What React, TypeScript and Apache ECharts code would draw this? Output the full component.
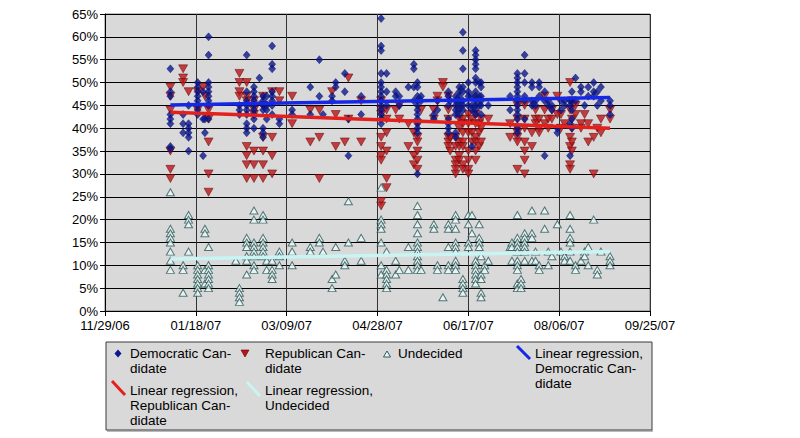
import React, { useEffect, useRef } from 'react';
import * as echarts from 'echarts';

// X axis range (dates) and tick step in days, Y axis range in percent
const xStart = '2006-11-29';
const xEnd = '2007-09-25';
const xStepDays = 50;
const yMax = 65;
const yStep = 5;

// Polls: [date, values in %]
const demPolls: [string, number[]][] = [
  ['2007-01-04', [53, 48, 47, 43, 42, 41, 36, 35.5]],
  ['2007-01-11', [43, 41, 39]],
  ['2007-01-14', [45, 41, 40, 39, 38, 35]],
  ['2007-01-19', [50, 49, 48, 47, 46, 45, 44, 43]],
  ['2007-01-22', [48, 42, 34]],
  ['2007-01-23', [42, 39]],
  ['2007-01-25', [60, 56, 50, 49, 48, 47, 46, 45, 42]],
  ['2007-02-11', [45, 44, 43]],
  ['2007-02-15', [56, 48, 46, 45, 44, 43, 41, 40, 39]],
  ['2007-02-19', [49, 48, 47, 46, 45, 44, 43, 42, 40]],
  ['2007-02-22', [51]],
  ['2007-02-24', [47, 46, 45, 44, 40, 39, 38]],
  ['2007-02-26', [47, 45, 44, 42]],
  ['2007-03-01', [58, 54, 53, 48, 47, 46, 45, 43]],
  ['2007-03-05', [42, 41]],
  ['2007-03-12', [44, 43]],
  ['2007-03-22', [49, 43]],
  ['2007-03-27', [55, 47]],
  ['2007-03-29', [43]],
  ['2007-04-03', [47, 46]],
  ['2007-04-05', [50, 49]],
  ['2007-04-10', [52, 48]],
  ['2007-04-12', [42, 34]],
  ['2007-04-19', [47, 43]],
  ['2007-04-30', [64, 58, 57, 52, 50, 49, 48, 47, 46, 45, 44, 43, 42, 41]],
  ['2007-05-03', [52, 48, 45]],
  ['2007-05-08', [48, 47]],
  ['2007-05-10', [47, 45]],
  ['2007-05-15', [49]],
  ['2007-05-18', [54, 53, 49, 46]],
  ['2007-05-20', [50, 49, 47, 46, 45, 44, 43, 42, 41, 40, 39, 30]],
  ['2007-05-22', [47, 46]],
  ['2007-05-29', [43, 42]],
  ['2007-05-31', [46, 44]],
  ['2007-06-06', [48, 47, 45, 42, 41, 40, 39]],
  ['2007-06-07', [46]],
  ['2007-06-10', [47, 46, 45, 44, 43, 39, 38]],
  ['2007-06-12', [49, 48, 47, 46, 45, 44, 43]],
  ['2007-06-14', [61, 57, 53, 49, 48, 46, 45, 44]],
  ['2007-06-17', [50, 48, 47, 45]],
  ['2007-06-19', [47, 45, 44, 36]],
  ['2007-06-21', [57, 56, 55, 54, 53, 51, 50, 48, 47, 46, 45, 44, 43]],
  ['2007-06-23', [50, 47, 45]],
  ['2007-06-24', [50, 49, 47, 46, 45, 43]],
  ['2007-06-28', [45]],
  ['2007-07-10', [47, 44]],
  ['2007-07-14', [52, 51, 50, 49, 48, 47, 46, 45, 44, 43, 42, 40, 39]],
  ['2007-07-18', [56, 52, 50, 47, 46, 42]],
  ['2007-07-22', [50, 49, 46, 45]],
  ['2007-07-24', [46, 45]],
  ['2007-07-26', [50, 49, 47]],
  ['2007-07-29', [48, 46, 34]],
  ['2007-07-31', [46, 45]],
  ['2007-08-02', [45, 44]],
  ['2007-08-05', [40, 39]],
  ['2007-08-07', [46, 44]],
  ['2007-08-09', [46, 45]],
  ['2007-08-12', [46, 45, 41, 34]],
  ['2007-08-13', [48, 46, 44, 42, 40]],
  ['2007-08-15', [51, 46]],
  ['2007-08-18', [49, 48]],
  ['2007-08-20', [45]],
  ['2007-08-22', [49, 47]],
  ['2007-08-25', [50, 48, 47]],
  ['2007-08-27', [48, 45]],
  ['2007-08-29', [49, 46]],
  ['2007-09-03', [46, 45, 43]],
];

const repPolls: [string, number[]][] = [
  ['2007-01-04', [49, 47, 44, 35, 31, 29]],
  ['2007-01-11', [53, 51, 50]],
  ['2007-01-14', [48]],
  ['2007-01-19', [48, 44]],
  ['2007-01-22', [49]],
  ['2007-01-23', [47]],
  ['2007-01-25', [44, 42, 37, 30, 26]],
  ['2007-02-11', [52, 50, 48, 47]],
  ['2007-02-15', [50, 47, 46, 36, 34, 32, 29]],
  ['2007-02-19', [46, 44, 43, 35, 32, 29]],
  ['2007-02-24', [47, 45, 38, 35, 32, 29]],
  ['2007-03-01', [48, 38, 34, 30]],
  ['2007-03-05', [48, 46]],
  ['2007-03-12', [47, 41]],
  ['2007-03-22', [44, 37]],
  ['2007-03-27', [44, 38, 29]],
  ['2007-04-03', [48]],
  ['2007-04-05', [43, 36]],
  ['2007-04-10', [37]],
  ['2007-04-12', [51, 42]],
  ['2007-04-19', [46, 37]],
  ['2007-04-30', [46, 44, 43, 38, 36, 34, 33, 24, 23]],
  ['2007-05-03', [44, 42, 39, 35, 29, 27]],
  ['2007-05-08', [44]],
  ['2007-05-10', [45, 42]],
  ['2007-05-15', [41, 36]],
  ['2007-05-18', [39, 34, 32]],
  ['2007-05-20', [41, 38, 37, 35, 33, 31]],
  ['2007-05-22', [44]],
  ['2007-05-29', [44, 42]],
  ['2007-05-31', [47, 46]],
  ['2007-06-03', [50, 49]],
  ['2007-06-06', [47, 44, 42, 38, 37, 36]],
  ['2007-06-07', [38, 35]],
  ['2007-06-10', [38, 36, 33, 32, 31, 30]],
  ['2007-06-12', [42, 40, 37, 36, 34, 33]],
  ['2007-06-14', [42, 41, 39, 37, 36, 32, 31]],
  ['2007-06-17', [43, 41, 39, 35, 33, 31, 30]],
  ['2007-06-19', [42, 39, 37]],
  ['2007-06-21', [43, 41, 38, 37, 35, 33]],
  ['2007-06-23', [41, 39, 36]],
  ['2007-06-24', [42, 40, 37]],
  ['2007-06-28', [42]],
  ['2007-07-10', [41, 38]],
  ['2007-07-14', [45, 42, 40, 39, 38, 37, 31]],
  ['2007-07-18', [45, 42, 40, 37, 35, 33, 30]],
  ['2007-07-22', [39, 36]],
  ['2007-07-24', [44, 42, 41]],
  ['2007-07-26', [42, 40, 39]],
  ['2007-07-29', [47, 44, 41]],
  ['2007-07-31', [42, 40]],
  ['2007-08-02', [44, 42]],
  ['2007-08-05', [47, 43]],
  ['2007-08-07', [43, 40]],
  ['2007-08-09', [41]],
  ['2007-08-12', [50, 44, 38, 36, 32, 31]],
  ['2007-08-13', [46, 42, 40, 37, 35]],
  ['2007-08-15', [45, 43]],
  ['2007-08-18', [41, 40]],
  ['2007-08-20', [43]],
  ['2007-08-22', [41, 37]],
  ['2007-08-25', [38, 30]],
  ['2007-08-27', [40]],
  ['2007-08-29', [42, 39]],
  ['2007-09-03', [44, 42]],
];

const undPolls: [string, number[]][] = [
  ['2007-01-04', [26, 18, 17, 16, 15, 13, 11, 9]],
  ['2007-01-11', [10, 9, 4]],
  ['2007-01-14', [21, 20, 19, 13]],
  ['2007-01-19', [10, 9, 8, 7, 6, 5, 4]],
  ['2007-01-23', [18, 17, 9, 6]],
  ['2007-01-25', [14, 10, 9, 8, 7, 6, 5]],
  ['2007-02-09', [11]],
  ['2007-02-11', [5, 4, 3, 2]],
  ['2007-02-15', [16, 15, 14, 12, 11, 8]],
  ['2007-02-19', [22, 20, 15, 14, 13, 12, 10, 9]],
  ['2007-02-24', [21, 20, 16, 15, 14, 13, 12]],
  ['2007-02-26', [11, 9]],
  ['2007-03-01', [11, 9, 8, 7]],
  ['2007-03-05', [13, 12, 10]],
  ['2007-03-12', [15, 13, 10]],
  ['2007-03-22', [14, 13]],
  ['2007-03-27', [16, 15]],
  ['2007-03-29', [13]],
  ['2007-04-03', [7, 5]],
  ['2007-04-05', [14, 8]],
  ['2007-04-10', [11, 10]],
  ['2007-04-12', [24, 15]],
  ['2007-04-19', [16, 11]],
  ['2007-04-30', [27, 20, 19, 18, 15, 10, 8]],
  ['2007-05-03', [13, 9, 8, 7, 6, 5]],
  ['2007-05-08', [11, 8]],
  ['2007-05-10', [9]],
  ['2007-05-15', [14, 9]],
  ['2007-05-20', [23, 21, 19, 17, 15, 14, 13, 12, 11, 10, 9]],
  ['2007-05-22', [9]],
  ['2007-05-29', [19, 18]],
  ['2007-05-31', [10, 9]],
  ['2007-06-03', [3]],
  ['2007-06-06', [19, 18, 14, 10, 9]],
  ['2007-06-10', [21, 20, 18, 15, 14, 13, 11, 10, 9]],
  ['2007-06-14', [7, 6, 5, 4]],
  ['2007-06-17', [21, 19, 15, 14]],
  ['2007-06-19', [21, 17]],
  ['2007-06-21', [11, 10, 9, 8, 7, 6]],
  ['2007-06-23', [19, 16, 15, 14]],
  ['2007-06-24', [12, 8, 7, 4, 3]],
  ['2007-06-26', [10, 9]],
  ['2007-06-28', [11]],
  ['2007-07-10', [14]],
  ['2007-07-11', [15, 14, 11]],
  ['2007-07-14', [21, 16, 15, 14, 13, 11, 10, 9, 6, 5]],
  ['2007-07-16', [7, 6, 5]],
  ['2007-07-18', [17, 16, 15, 14, 13, 11]],
  ['2007-07-22', [22, 17, 16, 11]],
  ['2007-07-24', [13, 11]],
  ['2007-07-26', [10, 9]],
  ['2007-07-29', [22, 18]],
  ['2007-07-31', [13, 10]],
  ['2007-08-02', [12]],
  ['2007-08-05', [19]],
  ['2007-08-07', [13]],
  ['2007-08-09', [12, 11]],
  ['2007-08-12', [21, 18, 16, 15, 13, 11]],
  ['2007-08-15', [10, 9]],
  ['2007-08-18', [11]],
  ['2007-08-20', [13, 12]],
  ['2007-08-22', [14, 10]],
  ['2007-08-25', [20]],
  ['2007-08-27', [9, 8]],
  ['2007-08-29', [13]],
  ['2007-09-03', [12, 11, 10]],
];

// Linear regression lines (endpoints)
const demTrend: [string, number][] = [['2007-01-04', 45.1], ['2007-09-03', 46.7]];
const repTrend: [string, number][] = [['2007-01-04', 43.5], ['2007-09-03', 40.0]];
const undTrend: [string, number][] = [['2007-01-04', 11.4], ['2007-09-03', 13.0]];

const seriesNames = [
  'Democratic Candidate',
  'Republican Candidate',
  'Undecided',
  'Linear regression, Democratic Candidate',
  'Linear regression, Republican Candidate',
  'Linear regression, Undecided',
];

const EPOCH = Date.UTC(1899, 11, 30);
const DAY = 86400000;
function serial(d: string): number {
  const [y, m, dd] = d.split('-').map(Number);
  return Math.round((Date.UTC(y, m - 1, dd) - EPOCH) / DAY);
}
function fmtDate(s: number): string {
  const dt = new Date(EPOCH + s * DAY);
  const mm = String(dt.getUTCMonth() + 1).padStart(2, '0');
  const dd = String(dt.getUTCDate()).padStart(2, '0');
  const yy = String(dt.getUTCFullYear() % 100).padStart(2, '0');
  return `${mm}/${dd}/${yy}`;
}
const flat = (polls: [string, number[]][]) =>
  polls.flatMap(([d, vs]) => vs.map((v) => [serial(d), v]));
const trend = (t: [string, number][]) => t.map(([d, v]) => [serial(d), v]);

const FONT = '"Liberation Sans", Arial, sans-serif';

const C_DEM = '#0a1890';
const C_REP = '#bc1418';
const C_UND_FILL = '#eef8f8';
const C_UND_BORDER = '#2e5a5a';
const C_DEM_LINE = '#1428e6';
const C_REP_LINE = '#e4201c';
const C_UND_LINE = '#c8f4f4';

export default function App() {
  const ref = useRef<HTMLDivElement>(null);
  useEffect(() => {
    if (!ref.current) return;
    const chart = echarts.init(ref.current, undefined, { renderer: 'svg' });
    const legendText = (text: string, x: number, y: number) => ({
      type: 'text',
      x,
      y,
      z: 12,
      style: { text, font: `13.5px ${FONT}`, fill: '#000', lineHeight: 15, verticalAlign: 'top' },
    });
    chart.setOption({
      animation: false,
      backgroundColor: '#ffffff',
      grid: {
        left: 105,
        right: 150,
        top: 14,
        bottom: 127,
        show: true,
        backgroundColor: '#d9d9d9',
        borderColor: '#7a7a7a',
        borderWidth: 1,
      },
      xAxis: {
        type: 'value',
        min: serial(xStart),
        max: serial(xEnd),
        interval: xStepDays,
        axisLine: { show: true, onZero: false, lineStyle: { color: '#000', width: 1 } },
        axisTick: { show: true, length: 5, lineStyle: { color: '#000' } },
        axisLabel: {
          formatter: (v: number) => fmtDate(v),
          color: '#000',
          fontSize: 13,
          fontFamily: FONT,
          margin: 8,
          showMinLabel: true,
          showMaxLabel: true,
        },
        splitLine: { show: true, lineStyle: { color: '#333', width: 1 } },
      },
      yAxis: {
        type: 'value',
        min: 0,
        max: yMax,
        interval: yStep,
        axisLine: { show: true, lineStyle: { color: '#000', width: 1 } },
        axisTick: { show: true, length: 5, lineStyle: { color: '#000' } },
        axisLabel: {
          formatter: '{value}%',
          color: '#000',
          fontSize: 13,
          fontFamily: FONT,
          margin: 7,
        },
        splitLine: { show: true, lineStyle: { color: '#000', width: 1 } },
      },
      series: [
        {
          name: seriesNames[2],
          type: 'scatter',
          data: flat(undPolls),
          symbol: 'triangle',
          symbolSize: [8, 7],
          itemStyle: { color: C_UND_FILL, borderColor: C_UND_BORDER, borderWidth: 1 },
          z: 2,
        },
        {
          name: seriesNames[1],
          type: 'scatter',
          data: flat(repPolls),
          symbol: 'triangle',
          symbolRotate: 180,
          symbolSize: [9, 8],
          itemStyle: { color: C_REP, borderColor: '#5a0000', borderWidth: 0.6 },
          z: 3,
        },
        {
          name: seriesNames[0],
          type: 'scatter',
          data: flat(demPolls),
          symbol: 'diamond',
          symbolSize: [7, 8],
          itemStyle: { color: C_DEM, borderColor: '#000050', borderWidth: 0.5 },
          z: 4,
        },
        {
          name: seriesNames[5],
          type: 'line',
          data: trend(undTrend),
          symbol: 'none',
          lineStyle: { color: C_UND_LINE, width: 3.5 },
          z: 5,
        },
        {
          name: seriesNames[4],
          type: 'line',
          data: trend(repTrend),
          symbol: 'none',
          lineStyle: { color: C_REP_LINE, width: 3.5 },
          z: 5,
        },
        {
          name: seriesNames[3],
          type: 'line',
          data: trend(demTrend),
          symbol: 'none',
          lineStyle: { color: C_DEM_LINE, width: 3.5 },
          z: 5,
        },
      ],
      graphic: [
        {
          type: 'rect',
          shape: { x: 106, y: 342, width: 546, height: 88 },
          style: { fill: '#d9d9d9', stroke: '#3a3a3a', lineWidth: 1 },
          z: 10,
        },
        {
          type: 'line',
          shape: { x1: 107, y1: 431, x2: 653, y2: 431 },
          style: { stroke: '#777', lineWidth: 1 },
          z: 10,
        },
        {
          type: 'polygon',
          shape: { points: [[118, 349.5], [121.5, 353.5], [118, 357.5], [114.5, 353.5]] },
          style: { fill: C_DEM },
          z: 11,
        },
        legendText('Democratic Can-\ndidate', 130, 345.5),
        {
          type: 'polygon',
          shape: { points: [[241, 350], [249, 350], [245, 357]] },
          style: { fill: C_REP, stroke: '#5a0000', lineWidth: 0.6 },
          z: 11,
        },
        legendText('Republican Can-\ndidate', 265, 345.5),
        {
          type: 'polygon',
          shape: { points: [[383.5, 357], [390.5, 357], [387, 351]] },
          style: { fill: C_UND_FILL, stroke: C_UND_BORDER, lineWidth: 1 },
          z: 11,
        },
        legendText('Undecided', 398, 345.5),
        {
          type: 'line',
          shape: { x1: 517, y1: 346, x2: 530, y2: 359 },
          style: { stroke: C_DEM_LINE, lineWidth: 3 },
          z: 11,
        },
        legendText('Linear regression,\nDemocratic Can-\ndidate', 535, 345.5),
        {
          type: 'line',
          shape: { x1: 112, y1: 381, x2: 125, y2: 395 },
          style: { stroke: C_REP_LINE, lineWidth: 3 },
          z: 11,
        },
        legendText('Linear regression,\nRepublican Can-\ndidate', 130, 382.5),
        {
          type: 'line',
          shape: { x1: 247, y1: 382, x2: 260, y2: 396 },
          style: { stroke: C_UND_LINE, lineWidth: 3 },
          z: 11,
        },
        legendText('Linear regression,\nUndecided', 265, 382.5),
      ],
    });
    return () => chart.dispose();
  }, []);
  return (
    <div
      ref={ref}
      style={{ position: 'absolute', left: 0, top: 0, width: 800, height: 438, background: '#fff' }}
    />
  );
}
